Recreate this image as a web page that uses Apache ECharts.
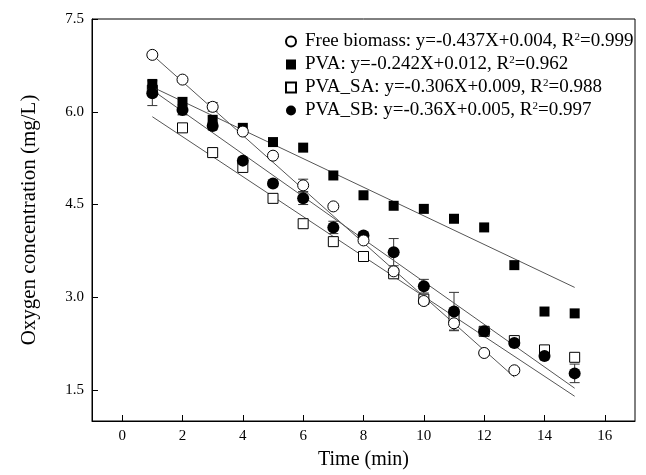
<!DOCTYPE html>
<html lang="en">
<head>
<meta charset="UTF-8">
<title>Oxygen concentration</title>
<style>
  *{padding:0;margin:0;}
  body{background:#fff;}
</style>
</head>
<body>
<div id="main" style="width:646px;height:475px;"></div>
<script src="https://cdn.jsdelivr.net/npm/echarts@6/dist/echarts.min.js"></script>
<script>
// time (min)
var time = [1,2,3,4,5,6,7,8,9,10,11,12,13,14,15];
// oxygen concentration (mg/L)
var freeBiomass = [6.92,6.52,6.08,5.68,5.29,4.81,4.47,3.92,3.42,2.94,2.58,2.10,1.82];
var pva   = [6.45,6.16,5.87,5.74,5.51,5.42,4.97,4.65,4.48,4.43,4.27,4.13,3.52,2.77,2.74];
var pvaSA = [6.35,5.74,5.34,5.10,4.60,4.19,3.90,3.66,3.38,2.97,2.68,2.45,2.30,2.15,2.03];
var pvaSB = [6.30,6.03,5.77,5.21,4.84,4.60,4.13,4.00,3.73,3.18,2.77,2.45,2.26,2.05,1.77];
// error bars (half width)
var freeErr = [0.04,0.04,0.07,0.04,0.04,0.10,0.04,0.04,0.05,0.05,0.11,0.04,0.04];
var sbErr   = [0.20,0.08,0.06,0.05,0.05,0.10,0.10,0.05,0.22,0.11,0.31,0.05,0.05,0.05,0.15];
// fitted lines: [x start, y start], [x end, y end]
var freeFit = [[1,6.92],[13,1.71]];
var pvaFit  = [[1,6.40],[15,3.16]];
var saFit   = [[1,5.92],[15,1.40]];
var sbFit   = [[1,6.35],[15,1.53]];

var xTicks = [0,2,4,6,8,10,12,14,16];
var yTicks = [1.5,3.0,4.5,6.0,7.5];

var names = ['Free biomass','PVA','PVA_SA','PVA_SB'];
var eqs = {
  'Free biomass': ['y=-0.437X+0.004, R','=0.999'],
  'PVA':          ['y=-0.242X+0.012, R','=0.962'],
  'PVA_SA':       ['y=-0.306X+0.009, R','=0.988'],
  'PVA_SB':       ['y=-0.36X+0.005, R','=0.997']
};

pairs = (ys) => ys.map((y,i) => [time[i], y]);
errs = (ys, es) => ys.map((y,i) => [time[i], y - es[i], y + es[i]]);

var font = '"Liberation Serif", "Times New Roman", serif';

function errorSeries(data) {
  return {
    type: 'custom',
    silent: true,
    z: 1,
    renderItem: function (params, api) {
      var lo = api.coord([api.value(0), api.value(1)]);
      var hi = api.coord([api.value(0), api.value(2)]);
      var w = 5;
      var st = {stroke: '#333', lineWidth: 1};
      return {
        type: 'group',
        children: [
          {type: 'line', shape: {x1: lo[0], y1: lo[1], x2: hi[0], y2: hi[1]}, style: st},
          {type: 'line', shape: {x1: lo[0]-w, y1: lo[1], x2: lo[0]+w, y2: lo[1]}, style: st},
          {type: 'line', shape: {x1: hi[0]-w, y1: hi[1], x2: hi[0]+w, y2: hi[1]}, style: st}
        ]
      };
    },
    encode: {x: 0, y: [1, 2]},
    data: data
  };
}

function fitLine(d) {
  return {
    type: 'line', data: d, symbol: 'none', silent: true, z: 2,
    lineStyle: {color: '#555', width: 1}
  };
}

// open markers: white fill, thin black border
function scatter(name, ys, symbol, size, open) {
  return {
    name: name, type: 'scatter', data: pairs(ys), symbol: symbol, symbolSize: size, z: 3,
    itemStyle: {color: open ? '#fff' : '#000', opacity: 1, borderColor: '#000', borderWidth: open ? 1 : 0}
  };
}

var chart = echarts.init(document.getElementById('main'));
chart.setOption({
  animation: false,
  grid: {left: 92, right: 11, top: 19, bottom: 53, show: true, borderColor: '#000', borderWidth: 1},
  legend: {
    data: names,
    orient: 'vertical', left: 280, top: 27, itemGap: 4, itemWidth: 10, itemHeight: 10,
    formatter: n => n + ': ' + eqs[n][0] + '{sup|2}' + eqs[n][1],
    textStyle: {
      fontFamily: font, fontSize: 19, color: '#000', padding: [0,0,0,4],
      rich: {sup: {fontFamily: font, fontSize: 11, verticalAlign: 'top', padding: [0,0,8,0]}}
    }
  },
  xAxis: {
    type: 'value', min: -1, max: 17,
    name: 'Time (min)', nameLocation: 'middle', nameGap: 29,
    nameTextStyle: {fontFamily: font, fontSize: 20, color: '#000'},
    axisLine: {onZero: false, lineStyle: {color: '#000'}},
    axisTick: {inside: true, length: 6, customValues: xTicks, lineStyle: {color: '#000'}},
    axisLabel: {customValues: xTicks, fontFamily: font, fontSize: 15, color: '#000', margin: 8},
    splitLine: {show: false}
  },
  yAxis: {
    type: 'value', min: 1, max: 7.5,
    name: 'Oxygen concentration (mg/L)', nameLocation: 'middle', nameGap: 52,
    nameTextStyle: {fontFamily: font, fontSize: 21, color: '#000'},
    axisLine: {show: true, onZero: false, lineStyle: {color: '#000'}},
    axisTick: {show: true, inside: true, length: 6, customValues: yTicks, lineStyle: {color: '#000'}},
    axisLabel: {customValues: yTicks, formatter: v => v.toFixed(1), fontFamily: font, fontSize: 15, color: '#000', margin: 8},
    splitLine: {show: false}
  },
  series: [
    errorSeries(errs(freeBiomass, freeErr)),
    errorSeries(errs(pvaSB, sbErr)),
    fitLine(freeFit), fitLine(pvaFit), fitLine(saFit), fitLine(sbFit),
    scatter('PVA_SA', pvaSA, 'rect', 10, true),
    scatter('PVA', pva, 'rect', 10, false),
    scatter('PVA_SB', pvaSB, 'circle', 12, false),
    scatter('Free biomass', freeBiomass, 'circle', 11, true)
  ]
});
</script>
</body>
</html>
